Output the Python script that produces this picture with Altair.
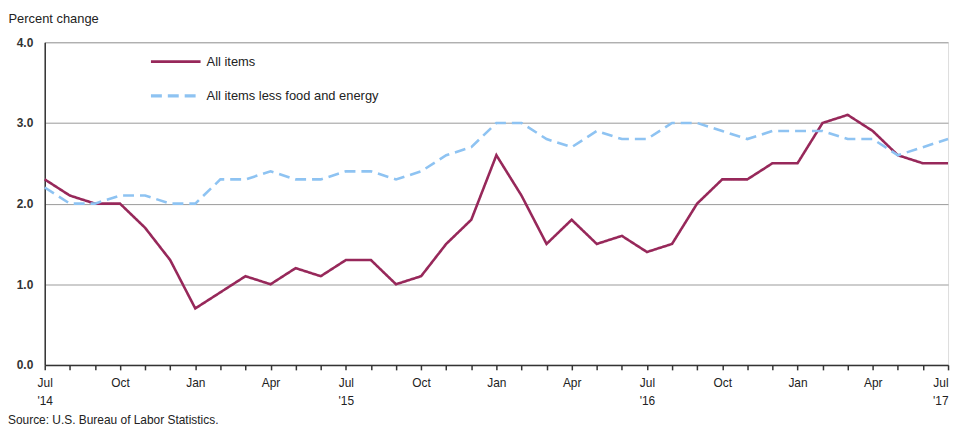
import altair as alt
import pandas as pd

months = [f"{2014 + (6 + i) // 12}-{(6 + i) % 12 + 1:02d}" for i in range(37)]

all_items = [2.3, 2.1, 2.0, 2.0, 1.7, 1.3, 0.7, 0.9, 1.1, 1.0, 1.2, 1.1,
             1.3, 1.3, 1.0, 1.1, 1.5, 1.8, 2.6, 2.1, 1.5, 1.8, 1.5, 1.6,
             1.4, 1.5, 2.0, 2.3, 2.3, 2.5, 2.5, 3.0, 3.1, 2.9, 2.6, 2.5, 2.5]

core = [2.2, 2.0, 2.0, 2.1, 2.1, 2.0, 2.0, 2.3, 2.3, 2.4, 2.3, 2.3,
        2.4, 2.4, 2.3, 2.4, 2.6, 2.7, 3.0, 3.0, 2.8, 2.7, 2.9, 2.8,
        2.8, 3.0, 3.0, 2.9, 2.8, 2.9, 2.9, 2.9, 2.8, 2.8, 2.6, 2.7, 2.8]

series_names = ["All items", "All items less food and energy"]
series_colors = ["#97285A", "#8EC3F2"]

df = pd.concat([
    pd.DataFrame({"month": months, "value": all_items, "series": series_names[0]}),
    pd.DataFrame({"month": months, "value": core, "series": series_names[1]}),
])

FONT = "Liberation Sans"

label_expr = (
    "slice(datum.value,5)=='07' ? ['Jul', \"'\" + slice(datum.value,2,4)] : "
    "slice(datum.value,5)=='10' ? 'Oct' : "
    "slice(datum.value,5)=='01' ? 'Jan' : "
    "slice(datum.value,5)=='04' ? 'Apr' : ''"
)

legend = alt.Legend(
    title=None, orient="none", legendX=105, legendY=-7,
    symbolType="stroke", symbolSize=2500, symbolStrokeWidth=3,
    labelFontSize=13, labelFont=FONT, labelColor="#222", labelLimit=400,
    rowPadding=-18, padding=0, labelOffset=4,
)

chart = alt.Chart(df).mark_line(strokeWidth=2.6).encode(
    x=alt.X(
        "month:O", sort=months,
        scale=alt.Scale(type="point", padding=0),
        axis=alt.Axis(
            title=None, values=months, labelExpr=label_expr, labelAngle=0,
            labelFontSize=12, labelFont=FONT, labelColor="#222",
            labelLineHeight=18, labelPadding=8,
            labelAlign={"condition": {"test": "datum.value == '2017-07'", "value": "right"},
                        "value": "center"},
            tickSize=5, tickColor="#333", tickWidth=1.5,
            domainColor="#333", domainWidth=1.5, grid=False,
        ),
    ),
    y=alt.Y(
        "value:Q",
        scale=alt.Scale(domain=[0, 4]),
        axis=alt.Axis(
            title="Percent change", titleAngle=0, titleAlign="left",
            titleBaseline="middle", titleX=-37, titleY=-24,
            titleFontSize=13, titleFontWeight="normal", titleFont=FONT, titleColor="#222",
            values=[0, 1, 2, 3, 4], format=".1f",
            labelFontSize=12, labelFontWeight="bold", labelFont=FONT, labelColor="#333",
            labelPadding=12, ticks=False,
            domainColor="#333", domainWidth=1.5,
            grid=True, gridColor="#9a9a9a", gridWidth=1,
        ),
    ),
    color=alt.Color("series:N", scale=alt.Scale(domain=series_names, range=series_colors),
                    legend=legend),
    strokeDash=alt.StrokeDash("series:N",
                              scale=alt.Scale(domain=series_names, range=[[1, 0], [11, 6]]),
                              legend=legend),
    strokeWidth=alt.StrokeWidth("series:N",
                                scale=alt.Scale(domain=series_names, range=[2.6, 3.4]),
                                legend=None),
).properties(
    width=953, height=420,
    autosize=alt.AutoSizeParams(type="fit", contains="padding"),
    padding={"left": 0, "top": 3, "right": 0, "bottom": 0},
    title=alt.TitleParams(
        "Source: U.S. Bureau of Labor Statistics.", orient="bottom", anchor="start",
        frame="bounds", fontSize=12, fontWeight="normal", font=FONT, color="#222", offset=9,
    ),
).configure_view(stroke="#9a9a9a", strokeWidth=1).configure(background="white")

chart.save("out.html", embed_options={"renderer": "svg", "actions": False})
